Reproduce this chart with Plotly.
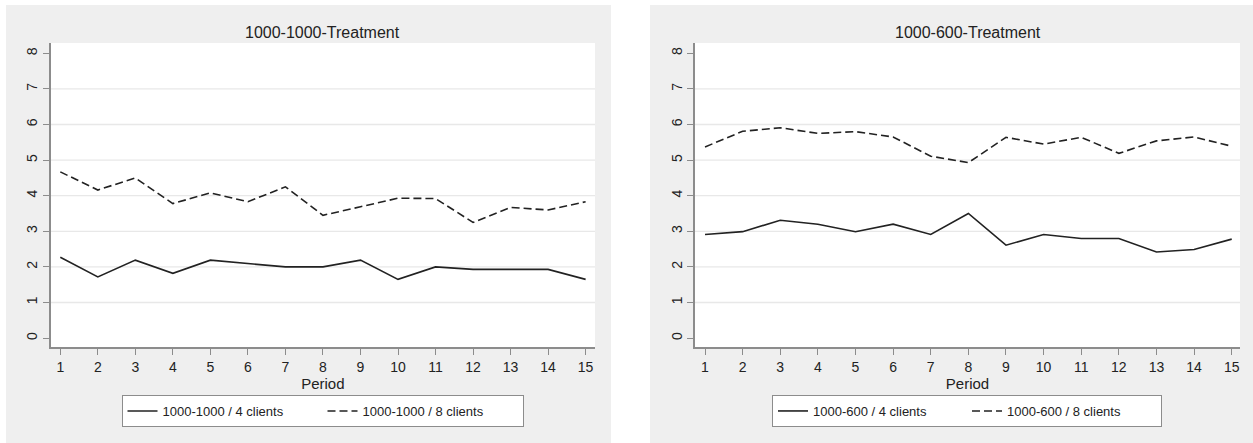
import plotly.graph_objects as go

# ---- data ----
periods = list(range(1, 16))
left_4 = [2.27, 1.72, 2.19, 1.82, 2.19, 2.10, 2.00, 2.00, 2.19, 1.65, 2.00, 1.93, 1.93, 1.93, 1.65]
left_8 = [4.67, 4.16, 4.50, 3.78, 4.08, 3.83, 4.25, 3.45, 3.69, 3.93, 3.92, 3.25, 3.67, 3.60, 3.83]
right_4 = [2.91, 2.99, 3.31, 3.20, 2.99, 3.20, 2.91, 3.50, 2.61, 2.91, 2.80, 2.80, 2.42, 2.49, 2.78]
right_8 = [5.37, 5.81, 5.91, 5.75, 5.80, 5.65, 5.11, 4.93, 5.64, 5.45, 5.64, 5.19, 5.54, 5.65, 5.39]
titles = ["1000-1000-Treatment", "1000-600-Treatment"]
names_left = ["1000-1000 / 4 clients", "1000-1000 / 8 clients"]
names_right = ["1000-600 / 4 clients", "1000-600 / 8 clients"]
x_ticks = list(range(1, 16))
y_ticks = list(range(0, 9))

W, H = 1253, 443
FONT = "Liberation Sans, Arial, sans-serif"
LINE = "#222222"
AXIS = "#8c8c8c"
PANEL = "#efefef"

def px(x):
    return x / W

def py(y):
    return (H - y) / H

fig = go.Figure()

fig.add_trace(go.Scatter(x=periods, y=left_4, mode="lines", name=names_left[0],
                         line=dict(color=LINE, width=1.6), xaxis="x", yaxis="y", legend="legend"))
fig.add_trace(go.Scatter(x=periods, y=left_8, mode="lines", name=names_left[1],
                         line=dict(color=LINE, width=1.6, dash="8px,4px"), xaxis="x", yaxis="y", legend="legend"))
fig.add_trace(go.Scatter(x=periods, y=right_4, mode="lines", name=names_right[0],
                         line=dict(color=LINE, width=1.6), xaxis="x2", yaxis="y2", legend="legend2"))
fig.add_trace(go.Scatter(x=periods, y=right_8, mode="lines", name=names_right[1],
                         line=dict(color=LINE, width=1.6, dash="8px,4px"), xaxis="x2", yaxis="y2", legend="legend2"))

ydom = [py(347), py(43)]

def xaxis_cfg(dom, rng, anchor):
    return dict(domain=dom, range=rng, anchor=anchor, tickmode="array", tickvals=x_ticks,
                ticktext=[str(v) for v in x_ticks], showgrid=False, zeroline=False,
                showline=True, linecolor=AXIS, linewidth=1.5, ticks="outside", ticklen=6,
                tickcolor=AXIS, tickwidth=1, tickfont=dict(size=14, color="#222", family=FONT),
                title=dict(text="Period", font=dict(size=15, color="#222", family=FONT), standoff=0),
                fixedrange=True)

def yaxis_cfg(rng, anchor):
    return dict(domain=ydom, range=rng, anchor=anchor, tickmode="array", tickvals=y_ticks,
                ticktext=[str(v) for v in y_ticks], showgrid=False, zeroline=False,
                showline=True, linecolor=AXIS, linewidth=1.5, ticks="outside", ticklen=6,
                tickcolor=AXIS, tickwidth=1, tickangle=-90,
                tickfont=dict(size=14, color="#222", family=FONT), fixedrange=True)

fig.update_layout(
    width=W, height=H,
    margin=dict(l=0, r=0, t=0, b=0),
    paper_bgcolor=PANEL, plot_bgcolor="white",
    font=dict(family=FONT, color="#222"),
    xaxis=xaxis_cfg([px(50.7), px(595)], [0.744, 15.25], "y"),
    yaxis=yaxis_cfg([-0.25, 8.29], "x"),
    xaxis2=xaxis_cfg([px(695), px(1240)], [0.734, 15.22], "y2"),
    yaxis2=yaxis_cfg([-0.25, 8.29], "x2"),
    legend=dict(orientation="h", x=px(322.5), xanchor="center", y=py(411), yanchor="middle",
                bgcolor="white", bordercolor=AXIS, borderwidth=1,
                font=dict(size=13, family=FONT, color="#222"),
                entrywidth=155, traceorder="normal"),
    legend2=dict(orientation="h", x=px(967), xanchor="center", y=py(411), yanchor="middle",
                 bgcolor="white", bordercolor=AXIS, borderwidth=1,
                 font=dict(size=13, family=FONT, color="#222"),
                 entrywidth=149, traceorder="normal"),
    showlegend=True,
)

# white gaps around the two gray panels
for x0, x1, y0, y1 in ((0, 6, 0, H), (611, 650, 0, H), (0, W, 0, 5)):
    fig.add_shape(type="rect", xref="paper", yref="paper", x0=px(x0), x1=px(x1), y0=py(y1), y1=py(y0),
                  fillcolor="white", line=dict(width=0), layer="below")

# horizontal grid lines at interior ticks (1..7)
for xr, yr in (("x", "y"), ("x2", "y2")):
    for v in y_ticks[1:-1]:
        fig.add_shape(type="line", xref=f"{xr} domain", yref=yr, x0=0, x1=1, y0=v, y1=v,
                      line=dict(color="#e8e8e8", width=1.3), layer="below")

# panel titles
for cx, t in zip([322.9, 967.5], titles):
    fig.add_annotation(text=t, xref="paper", yref="paper", x=px(cx), y=py(32), showarrow=False,
                       xanchor="center", yanchor="middle", font=dict(size=16, family=FONT, color="#222"))

fig.write_html("out.html", config={"displayModeBar": False},
               post_script="document.body.style.margin='0';")
